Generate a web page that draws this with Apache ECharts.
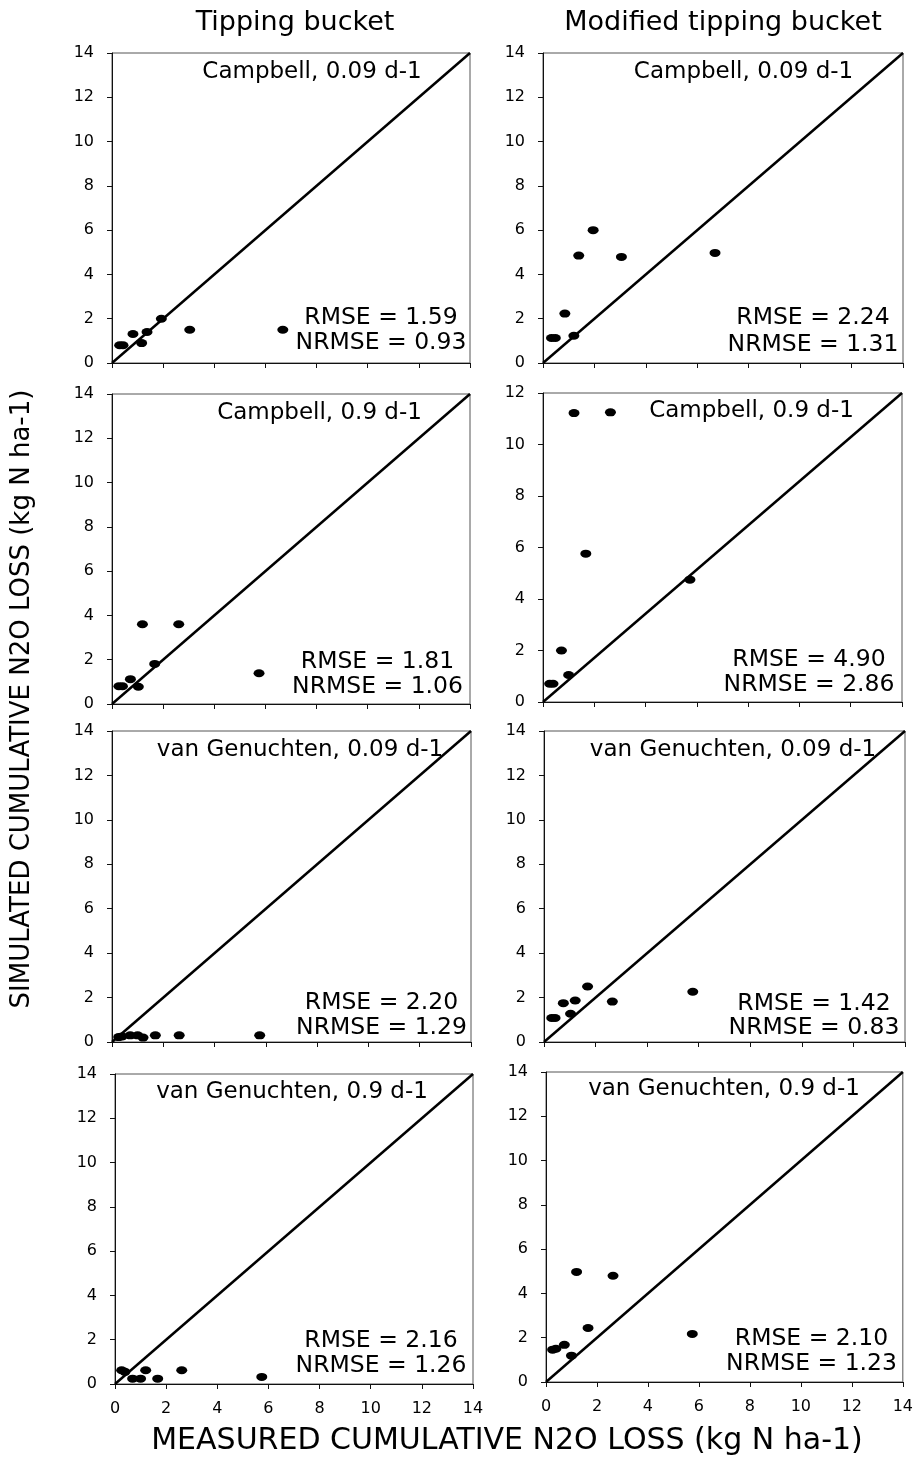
<!DOCTYPE html>
<html><head><meta charset="utf-8">
<script src="https://cdn.jsdelivr.net/npm/echarts@6/dist/echarts.min.js"></script>
<style>html,body{margin:0;padding:0;background:#fff}#c{width:916px;height:1465px}</style>
</head><body><div id="c"></div>
<script>
// ---- data ----
const columnTitles = ['Tipping bucket', 'Modified tipping bucket'];
const xTitle = 'MEASURED CUMULATIVE N2O LOSS (kg N ha-1)';
const yTitle = 'SIMULATED CUMULATIVE N2O LOSS (kg N ha-1)';
const panelLabels = ['Campbell, 0.09 d-1', 'Campbell, 0.09 d-1', 'Campbell, 0.9 d-1', 'Campbell, 0.9 d-1',
  'van Genuchten, 0.09 d-1', 'van Genuchten, 0.09 d-1', 'van Genuchten, 0.9 d-1', 'van Genuchten, 0.9 d-1'];
const rmse = ['1.59', '2.24', '1.81', '4.90', '2.20', '1.42', '2.16', '2.10'];
const nrmse = ['0.93', '1.31', '1.06', '2.86', '1.29', '0.83', '1.26', '1.23'];
const xMax = [14, 14, 14, 14, 14, 14, 14, 14];
const yMax = [14, 14, 14, 12, 14, 14, 14, 14];
const tickStep = 2;

// measured (x) vs simulated (y)
const tbCampbell009  = [[0.30,0.80],[0.43,0.80],[0.82,1.31],[1.16,0.90],[1.37,1.40],[1.93,2.00],[3.04,1.50],[6.68,1.50]];
const mtbCampbell009 = [[0.33,1.13],[0.48,1.13],[0.85,2.23],[1.20,1.23],[1.39,4.85],[1.95,6.00],[3.05,4.79],[6.69,4.97]];
const tbCampbell09   = [[0.27,0.80],[0.41,0.80],[0.72,1.12],[1.03,0.78],[1.19,3.60],[1.67,1.81],[2.61,3.60],[5.75,1.39]];
const mtbCampbell09  = [[0.26,0.71],[0.39,0.71],[0.72,2.00],[1.00,1.05],[1.21,11.22],[1.67,5.76],[2.63,11.25],[5.73,4.75]];
const tbVG009        = [[0.26,0.22],[0.39,0.25],[0.71,0.30],[1.00,0.30],[1.21,0.20],[1.69,0.30],[2.62,0.30],[5.76,0.30]];
const mtbVG009       = [[0.30,1.08],[0.43,1.08],[0.75,1.75],[1.03,1.27],[1.21,1.87],[1.69,2.50],[2.65,1.82],[5.77,2.26]];
const tbVG09         = [[0.26,0.62],[0.39,0.55],[0.69,0.24],[1.00,0.24],[1.20,0.62],[1.67,0.24],[2.61,0.62],[5.74,0.32]];
const mtbVG09        = [[0.26,1.46],[0.39,1.50],[0.72,1.68],[1.00,1.19],[1.20,4.97],[1.65,2.44],[2.63,4.80],[5.74,2.17]];
const panelData = [tbCampbell009, mtbCampbell009, tbCampbell09, mtbCampbell09, tbVG009, mtbVG009, tbVG09, mtbVG09];

// ---- layout (pixels) ----
const grids = [
  {left:112, top:53,   width:358, height:310},
  {left:543, top:53,   width:360, height:310},
  {left:112, top:394,  width:358, height:310},
  {left:543, top:393,  width:359, height:309},
  {left:112, top:731,  width:359, height:311},
  {left:544, top:731,  width:361, height:311},
  {left:115, top:1074, width:358, height:310},
  {left:546, top:1072, width:358, height:310}
];
const labelPos = [[200,19],[200.5,19],[207.5,19],[208.5,18.5],[188,19],[189,19],[177,18],[178,17]];
const statPos  = [[269,45,20],[270,45,18.3],[265.5,42.3,17.3],[266,42.3,17.3],[269.5,39,14],[270,38.3,14],[266,43.3,18.3],[265.5,43.3,18.3]];
const FONT = "'DejaVu Sans', sans-serif";

const chart = echarts.init(document.getElementById('c'), null, {renderer:'canvas'});
const option = {
  backgroundColor:'#fff',
  animation:false,
  grid: grids.map(g => Object.assign({show:true, borderColor:'#555', borderWidth:1, backgroundColor:'transparent'}, g)),
  xAxis: grids.map((g,i) => ({
    type:'value', gridIndex:i, min:0, max:xMax[i], interval:tickStep,
    axisLine:{show:true, onZero:false, lineStyle:{color:'#111', width:1}},
    axisTick:{show:true, inside:false, length:5, lineStyle:{color:'#111'}},
    axisLabel:{show:i>=6, margin:17, color:'#000', fontSize:16, fontFamily:FONT},
    splitLine:{show:false}
  })),
  yAxis: grids.map((g,i) => ({
    type:'value', gridIndex:i, min:0, max:yMax[i], interval:tickStep,
    axisLine:{show:true, onZero:false, lineStyle:{color:'#111', width:1}},
    axisTick:{show:true, inside:false, length:5, lineStyle:{color:'#111'}},
    axisLabel:{show:true, margin:18, color:'#000', fontSize:16, fontFamily:FONT},
    splitLine:{show:false}
  })),
  series: [].concat(
    grids.map((g,i) => ({
      type:'line', xAxisIndex:i, yAxisIndex:i, data:[[0,0],[xMax[i],yMax[i]]],
      symbol:'none', silent:true, lineStyle:{color:'#000', width:2.5}, z:2
    })),
    grids.map((g,i) => ({
      type:'scatter', xAxisIndex:i, yAxisIndex:i, data:panelData[i],
      symbol:'circle', symbolSize:[11,8], itemStyle:{color:'#000', opacity:1}, z:3
    }))
  ),
  graphic: [].concat(
    [
      {type:'text', x:295, y:23, style:{text:columnTitles[0], font:'27px '+FONT, fill:'#000', textAlign:'center', textVerticalAlign:'middle'}},
      {type:'text', x:723, y:23, style:{text:columnTitles[1], font:'27px '+FONT, fill:'#000', textAlign:'center', textVerticalAlign:'middle'}},
      {type:'text', x:507, y:1441, style:{text:xTitle, font:'30px '+FONT, fill:'#000', textAlign:'center', textVerticalAlign:'middle'}},
      {type:'text', x:22, y:699, rotation:Math.PI/2, style:{text:yTitle, font:'26px '+FONT, fill:'#000', textAlign:'center', textVerticalAlign:'middle'}}
    ],
    grids.map((g,i) => ({type:'text', x:g.left+labelPos[i][0], y:g.top+labelPos[i][1],
      style:{text:panelLabels[i], font:'23px '+FONT, fill:'#000', textAlign:'center', textVerticalAlign:'middle'}})),
    grids.map((g,i) => ({type:'text', x:g.left+statPos[i][0], y:g.top+g.height-statPos[i][1],
      style:{text:'RMSE = '+rmse[i], font:'23.5px '+FONT, fill:'#000', textAlign:'center', textVerticalAlign:'middle'}})),
    grids.map((g,i) => ({type:'text', x:g.left+statPos[i][0], y:g.top+g.height-statPos[i][2],
      style:{text:'NRMSE = '+nrmse[i], font:'23.5px '+FONT, fill:'#000', textAlign:'center', textVerticalAlign:'middle'}}))
  )
};
chart.setOption(option);
</script></body></html>
